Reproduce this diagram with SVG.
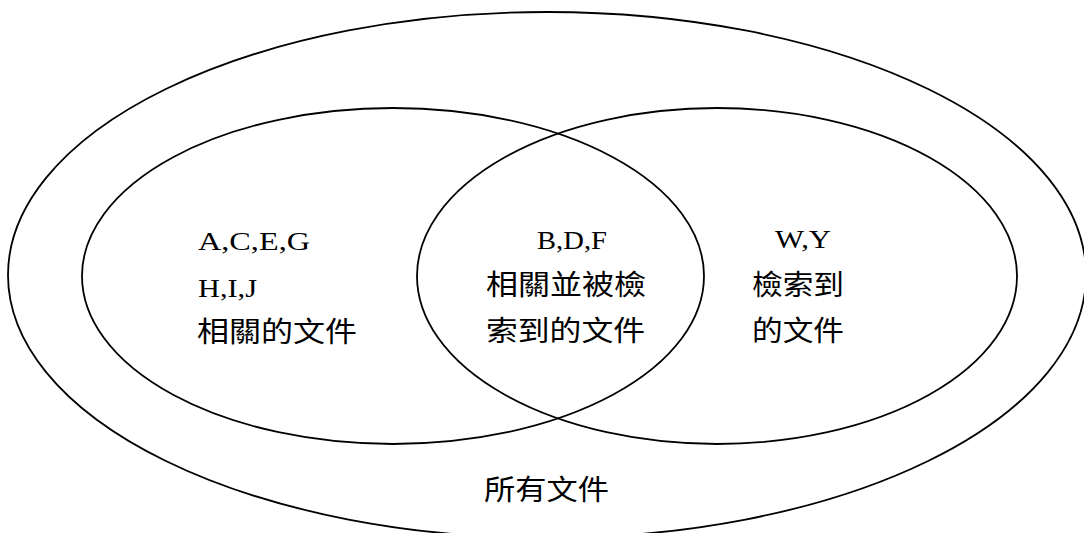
<svg xmlns="http://www.w3.org/2000/svg" width="1084" height="533" viewBox="0 0 1084 533">
<style>
.set{fill:none;stroke:#000;stroke-width:1.8}
.lat{font-family:"Liberation Serif","Times New Roman",serif;font-size:25px;fill:#000}
.cjk{font-family:"Noto Sans CJK TC","Noto Sans CJK SC",sans-serif;font-size:28px;fill:#000}
</style>
<rect width="1084" height="533" fill="#fff"/>
<g id="all">
<ellipse class="set" cx="547" cy="275" rx="539" ry="263"/>
<text class="cjk" x="484" y="500" textLength="125" lengthAdjust="spacingAndGlyphs">所有文件</text>
</g>
<g id="relevant">
<ellipse class="set" cx="393" cy="276" rx="311" ry="168"/>
<text class="lat" x="198" y="250" textLength="112" lengthAdjust="spacingAndGlyphs">A,C,E,G</text>
<text class="lat" x="198" y="297" textLength="59" lengthAdjust="spacingAndGlyphs">H,I,J</text>
<text class="cjk" x="197" y="342" textLength="160" lengthAdjust="spacingAndGlyphs">相關的文件</text>
</g>
<g id="retrieved">
<ellipse class="set" cx="717" cy="276" rx="300" ry="168"/>
<text class="lat" x="775" y="248" textLength="56" lengthAdjust="spacingAndGlyphs">W,Y</text>
<text class="cjk" x="752" y="295" textLength="92" lengthAdjust="spacingAndGlyphs">檢索到</text>
<text class="cjk" x="752" y="341" textLength="92" lengthAdjust="spacingAndGlyphs">的文件</text>
</g>
<g id="intersection">
<text class="lat" x="537" y="249" textLength="70" lengthAdjust="spacingAndGlyphs">B,D,F</text>
<text class="cjk" x="486" y="295" textLength="160" lengthAdjust="spacingAndGlyphs">相關並被檢</text>
<text class="cjk" x="486" y="341" textLength="159" lengthAdjust="spacingAndGlyphs">索到的文件</text>
</g>
<g id="connectors"></g>
</svg>
